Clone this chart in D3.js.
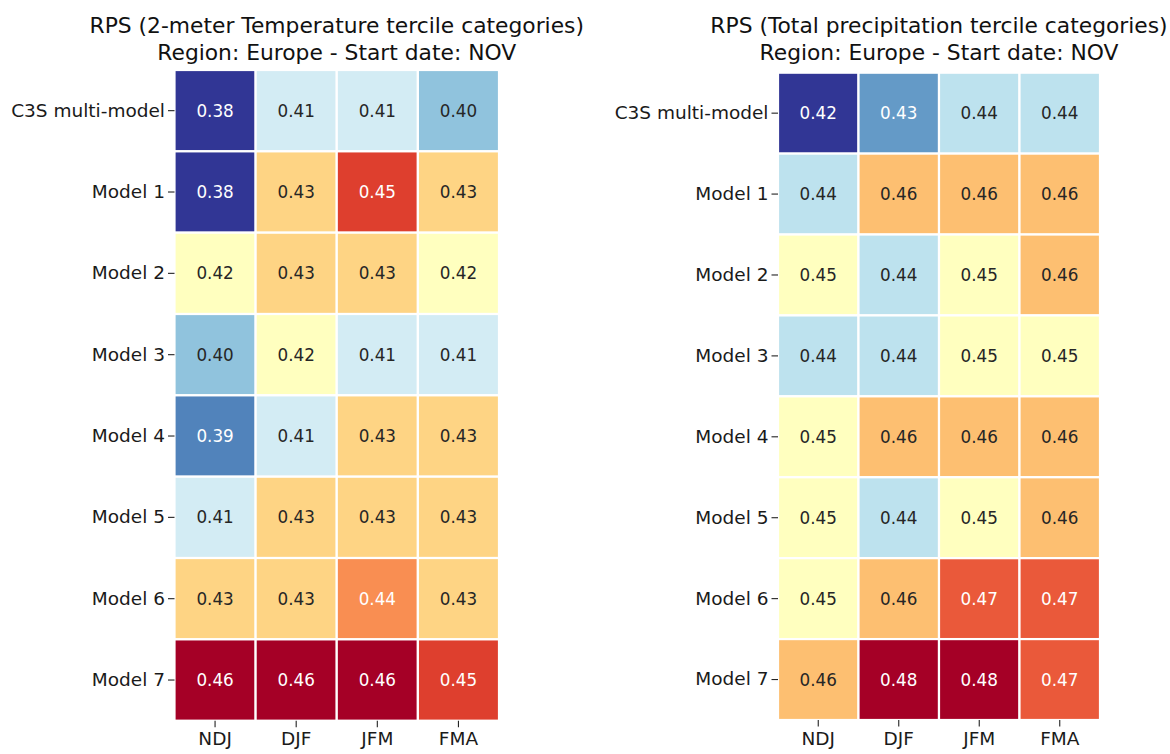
<!DOCTYPE html>
<html>
<head>
<meta charset="utf-8">
<script src="https://cdn.jsdelivr.net/npm/d3@7"></script>
<style>
  html, body { margin: 0; padding: 0; background: #ffffff; }
  svg { display: block; font-family: "DejaVu Sans", sans-serif; }
</style>
</head>
<body>
<svg id="chart" width="1170" height="754"></svg>
<script>
// ---- data ----
const models = ["C3S multi-model", "Model 1", "Model 2", "Model 3", "Model 4", "Model 5", "Model 6", "Model 7"];
const seasons = ["NDJ", "DJF", "JFM", "FMA"];

const titleT2m = ["RPS (2-meter Temperature tercile categories)", "Region: Europe - Start date: NOV"];
const titleTp  = ["RPS (Total precipitation tercile categories)", "Region: Europe - Start date: NOV"];

// rows = models, columns = seasons
const rpsT2m = [
  [0.380, 0.410, 0.410, 0.400],
  [0.380, 0.430, 0.450, 0.430],
  [0.420, 0.430, 0.430, 0.420],
  [0.400, 0.420, 0.410, 0.410],
  [0.390, 0.410, 0.430, 0.430],
  [0.410, 0.430, 0.430, 0.430],
  [0.430, 0.430, 0.440, 0.430],
  [0.460, 0.460, 0.460, 0.450]
];
const rpsTp = [
  [0.420, 0.430, 0.440, 0.440],
  [0.440, 0.460, 0.460, 0.460],
  [0.450, 0.440, 0.450, 0.460],
  [0.440, 0.440, 0.450, 0.450],
  [0.450, 0.460, 0.460, 0.460],
  [0.450, 0.440, 0.450, 0.460],
  [0.450, 0.460, 0.470, 0.470],
  [0.460, 0.480, 0.480, 0.470]
];

// ---- colour map: matplotlib RdYlBu_r (linear between ColorBrewer stops) ----
const stops = d3.schemeRdYlBu[11].slice().reverse();
const cmap = d3.piecewise(d3.interpolateRgb, stops);

function relLum(c) {
  const rgb = d3.rgb(c);
  const f = v => { v /= 255; return v <= 0.03928 ? v / 12.92 : Math.pow((v + 0.055) / 1.055, 2.4); };
  return 0.2126 * f(rgb.r) + 0.7152 * f(rgb.g) + 0.0722 * f(rgb.b);
}

const svg = d3.select("#chart");
const fmt = d3.format(".2f");

function heatmap(box, values, title) {
  const g = svg.append("g");
  const x = d3.scaleBand().domain(seasons).range([box.x0, box.x1]);
  const y = d3.scaleBand().domain(models).range([box.y0, box.y1]);
  const flat = values.flat();
  const norm = d3.scaleLinear().domain(d3.extent(flat)).range([0, 1]).clamp(true);

  const cells = [];
  values.forEach((row, i) => row.forEach((v, j) => cells.push({ m: models[i], s: seasons[j], v })));

  g.selectAll("rect.cell").data(cells).join("rect")
    .attr("class", "cell")
    .attr("x", d => x(d.s))
    .attr("y", d => y(d.m))
    .attr("width", x.bandwidth())
    .attr("height", y.bandwidth())
    .attr("fill", d => cmap(norm(d.v)))
    .attr("stroke", "#ffffff")
    .attr("stroke-width", 2.2);

  g.selectAll("text.annot").data(cells).join("text")
    .attr("class", "annot")
    .attr("x", d => x(d.s) + x.bandwidth() / 2)
    .attr("y", d => y(d.m) + y.bandwidth() / 2)
    .attr("text-anchor", "middle")
    .attr("dominant-baseline", "central")
    .attr("font-size", "16.8px")
    .attr("fill", d => relLum(cmap(norm(d.v))) > 0.408 ? "#262626" : "#ffffff")
    .text(d => fmt(d.v));

  // axes
  const yAxis = d3.axisLeft(y).tickSize(6.5).tickPadding(3);
  const xAxis = d3.axisBottom(x).tickSize(6.5).tickPadding(5);

  const ga = g.append("g").attr("transform", `translate(${box.x0},0)`).call(yAxis);
  const gb = g.append("g").attr("transform", `translate(0,${box.y1})`).call(xAxis);
  [ga, gb].forEach(a => {
    a.select(".domain").remove();
    a.selectAll(".tick line").attr("stroke", "#222").attr("stroke-width", 1.1);
    a.selectAll(".tick text").attr("fill", "#1a1a1a").attr("font-size", "18.5px")
      .attr("font-family", "DejaVu Sans, sans-serif");
  });

  const cx = (box.x0 + box.x1) / 2;
  g.selectAll("text.title").data(title).join("text")
    .attr("class", "title")
    .attr("x", cx)
    .attr("y", (d, i) => 33 + i * 26.5)
    .attr("text-anchor", "middle")
    .attr("font-size", "21.8px")
    .attr("fill", "#111")
    .text(d => d);
}

heatmap({ x0: 174.5, x1: 499, y0: 70, y1: 720.7 }, rpsT2m, titleT2m);
heatmap({ x0: 778, x1: 1100, y0: 72.7, y1: 720 }, rpsTp, titleTp);
</script>
</body>
</html>
